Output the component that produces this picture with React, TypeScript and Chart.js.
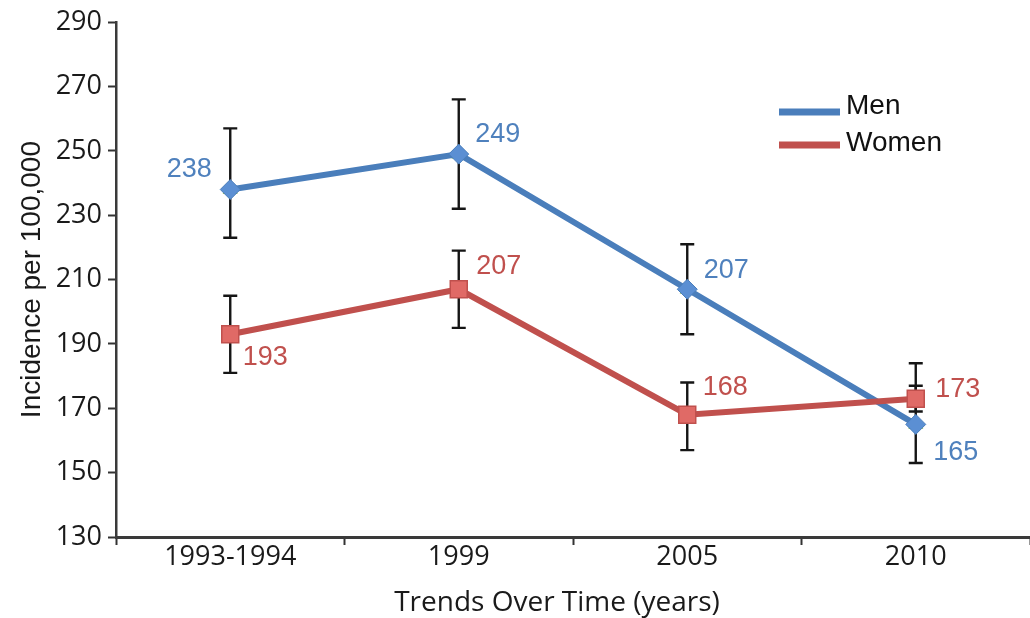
import React, { useEffect, useRef } from "react";
import { Chart, registerables } from "chart.js";

Chart.register(...registerables);

const categories = ["1993-1994", "1999", "2005", "2010"];
const menValues = [238, 249, 207, 165];
const womenValues = [193, 207, 168, 173];
const menLow = [223, 232, 193, 153];
const menHigh = [257, 266, 221, 177];
const womenLow = [181, 195, 157, 169];
const womenHigh = [205, 219, 178, 184];
const yTicks = [130, 150, 170, 190, 210, 230, 250, 270, 290];
const xTitle = "Trends Over Time (years)";
const yTitle = "Incidence per 100,000";

const MEN_LINE = "#4a7ebb";
const MEN_TEXT = "#4f81bd";
const WOMEN_LINE = "#c0504d";
const WOMEN_TEXT = "#c0504d";

// label offsets (px) relative to each point
const menLabelOffsets = [
  [-41, -20],
  [39, -20],
  [39, -19],
  [40, 28],
];
const womenLabelOffsets = [
  [35, 23],
  [40, -23],
  [38, -27],
  [42, -9],
];

const errorBarPlugin = {
  id: "errorBars",
  beforeDatasetsDraw(chart: any) {
    const { ctx, scales } = chart;
    const x = scales.x;
    const y = scales.y;
    ctx.save();
    ctx.strokeStyle = "#151515";
    ctx.lineWidth = 2.4;
    const drawBar = (i: number, lo: number, hi: number) => {
      const px = x.getPixelForValue(i);
      const yl = y.getPixelForValue(lo);
      const yh = y.getPixelForValue(hi);
      const cap = 7;
      ctx.beginPath();
      ctx.moveTo(px, yl);
      ctx.lineTo(px, yh);
      ctx.moveTo(px - cap, yl);
      ctx.lineTo(px + cap, yl);
      ctx.moveTo(px - cap, yh);
      ctx.lineTo(px + cap, yh);
      ctx.stroke();
    };
    categories.forEach((_, i) => {
      drawBar(i, menLow[i], menHigh[i]);
      drawBar(i, womenLow[i], womenHigh[i]);
    });
    ctx.restore();
  },
};

const labelPlugin = {
  id: "valueLabels",
  afterDatasetsDraw(chart: any) {
    const { ctx, scales } = chart;
    const x = scales.x;
    const y = scales.y;
    ctx.save();
    ctx.font = "27px 'Liberation Sans', Arial, sans-serif";
    ctx.textAlign = "center";
    ctx.textBaseline = "middle";
    categories.forEach((_, i) => {
      const px = x.getPixelForValue(i);
      ctx.fillStyle = MEN_TEXT;
      ctx.fillText(
        String(menValues[i]),
        px + menLabelOffsets[i][0],
        y.getPixelForValue(menValues[i]) + menLabelOffsets[i][1]
      );
      ctx.fillStyle = WOMEN_TEXT;
      ctx.fillText(
        String(womenValues[i]),
        px + womenLabelOffsets[i][0],
        y.getPixelForValue(womenValues[i]) + womenLabelOffsets[i][1]
      );
    });
    ctx.restore();
  },
};

const legendPlugin = {
  id: "customLegend",
  afterDraw(chart: any) {
    const { ctx, chartArea } = chart;
    ctx.save();
    // x-axis title (slightly left of centre, as in the reference)
    ctx.font = "28px 'Open Sans', sans-serif";
    ctx.fillStyle = "#1a1a1a";
    ctx.textAlign = "center";
    ctx.textBaseline = "middle";
    ctx.fillText(xTitle, (chartArea.left + chartArea.right) / 2 - 16, 603);

    const items = [
      { label: "Men", color: MEN_LINE, y: 112, ty: 106 },
      { label: "Women", color: WOMEN_LINE, y: 145, ty: 143 },
    ];
    ctx.font = "28px 'Liberation Sans', Arial, sans-serif";
    ctx.textAlign = "left";
    items.forEach((it) => {
      ctx.strokeStyle = it.color;
      ctx.lineWidth = 7;
      ctx.beginPath();
      ctx.moveTo(779, it.y);
      ctx.lineTo(840, it.y);
      ctx.stroke();
      ctx.fillStyle = "#111";
      ctx.fillText(it.label, 846, it.ty);
    });
    ctx.restore();
  },
};

export default function App() {
  const canvasRef = useRef<HTMLCanvasElement | null>(null);

  useEffect(() => {
    document.body.style.margin = "0";
    const canvas = canvasRef.current;
    if (!canvas) return;
    const chart = new Chart(canvas, {
      type: "line",
      data: {
        labels: categories,
        datasets: [
          {
            label: "Women",
            data: womenValues,
            borderColor: WOMEN_LINE,
            borderWidth: 6,
            pointStyle: "rect",
            pointRadius: 12,
            pointBackgroundColor: "#e06a66",
            pointBorderColor: "#c0504d",
            pointBorderWidth: 1.5,
            tension: 0,
            order: 0,
          },
          {
            label: "Men",
            data: menValues,
            borderColor: MEN_LINE,
            borderWidth: 6,
            pointStyle: "rectRot",
            pointRadius: 10,
            pointBackgroundColor: "#5b8fd3",
            pointBorderColor: "#4a7ebb",
            pointBorderWidth: 1,
            tension: 0,
            order: 1,
          },
          {
            label: "MenMarker",
            data: menValues,
            showLine: false,
            pointStyle: "triangle",
            pointRadius: 8,
            pointBackgroundColor: "#86b84e",
            pointBorderColor: "#86b84e",
            pointBorderWidth: 1,
            order: 2,
          },
        ],
      },
      options: {
        animation: false,
        responsive: false,
        maintainAspectRatio: false,
        layout: { autoPadding: false, padding: { top: 18, left: 0, right: 0, bottom: 0 } },
        plugins: {
          legend: { display: false },
          tooltip: { enabled: false },
        },
        scales: {
          x: {
            type: "category",
            offset: true,
            grid: {
              display: true,
              drawOnChartArea: false,
              offset: true,
              tickLength: 8,
              tickWidth: 2,
              tickColor: "#333",
            },
            border: { display: true, color: "#3a3a3a", width: 3 },
            ticks: {
              font: { family: "'Open Sans', sans-serif", size: 27 },
              color: "#1a1a1a",
              padding: -4,
              maxRotation: 0,
            },
            title: { display: false, text: xTitle },
            afterFit(scale: any) {
              scale.height = 81;
            },
          },
          y: {
            min: 130,
            max: 290,
            afterBuildTicks(scale: any) {
              scale.ticks = yTicks.map((v) => ({ value: v }));
            },
            grid: {
              display: true,
              drawOnChartArea: false,
              tickLength: 8,
              tickWidth: 2,
              tickColor: "#333",
            },
            border: { display: true, color: "#3a3a3a", width: 2.5 },
            ticks: {
              font: { family: "'Open Sans', sans-serif", size: 27 },
              color: "#1a1a1a",
              padding: 6,
            },
            title: {
              display: true,
              text: yTitle,
              font: { family: "'Liberation Sans', Arial, sans-serif", size: 28 },
              color: "#1a1a1a",
              padding: { top: 15, bottom: 0 },
            },
            afterFit(scale: any) {
              scale.width = 116;
            },
          },
        },
      },
      plugins: [errorBarPlugin, labelPlugin, legendPlugin],
    });
    return () => chart.destroy();
  }, []);

  return (
    <div style={{ position: "absolute", left: 0, top: 0, width: 1030, height: 618, background: "#fff" }}>
      <canvas ref={canvasRef} width={1030} height={618} style={{ width: 1030, height: 618 }} />
    </div>
  );
}
